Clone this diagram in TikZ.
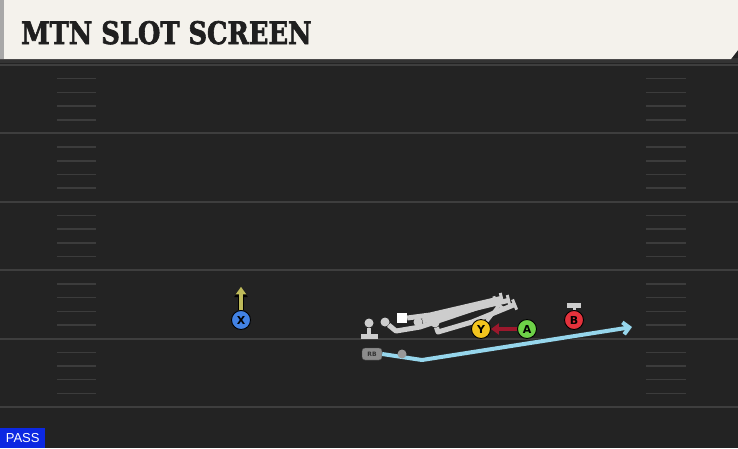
\documentclass[tikz,border=0pt]{standalone}
\usepackage{fontspec}
\usetikzlibrary{arrows.meta}
\newfontfamily\headfont[FakeBold=2.2]{DejaVu Serif}
\newfontfamily\tagfont{Liberation Sans}
\newfontfamily\dotfont{DejaVu Sans}
\definecolor{fieldbg}{RGB}{35, 35, 35}
\definecolor{yardln}{RGB}{62, 62, 62}
\definecolor{hashln}{RGB}{60, 60, 60}
\definecolor{headbg}{RGB}{244, 242, 236}
\definecolor{headedge}{RGB}{168, 168, 168}
\definecolor{blockgray}{RGB}{205, 205, 205}
\definecolor{routecyan}{RGB}{150, 214, 236}
\definecolor{xblue}{RGB}{66, 130, 228}
\definecolor{yyellow}{RGB}{242, 196, 30}
\definecolor{agreen}{RGB}{110, 210, 72}
\definecolor{bred}{RGB}{228, 50, 60}
\definecolor{pushred}{RGB}{155, 24, 44}
\definecolor{goolive}{RGB}{190, 186, 90}
\definecolor{passblue}{RGB}{12, 40, 226}
\tikzset{
  player/.style = {circle, draw = black, line width = 0.9, minimum size = 19, inner sep = 0,
    font = \dotfont\bfseries\fontsize{11}{11}\selectfont},
  lineman/.style = {circle, fill = blockgray, minimum size = 9, inner sep = 0},
  blockln/.style = {draw = blockgray, line width = 5, line join = round},
  blockend/.style = {-{Bar[width=11, line width=3]}},
  hashmk/.style = {draw = hashln, line width = 1.5},
}
\begin{document}
\begin{tikzpicture}[x = 1pt, y = -1pt]
\useasboundingbox (0, 0) rectangle (738, 448);
% field
\fill[fieldbg] (0, 0) rectangle (738, 448);
\fill[black!80] (0, 58) rectangle (738, 63);
\foreach \yl in {65, 133.4, 201.8, 270.2, 338.6, 407} {
  \draw[yardln, line width = 2] (0, \yl) -- (738, \yl);
}
\foreach \yl in {65, 133.4, 201.8, 270.2, 338.6} {
  \foreach \k in {1, 2, 3, 4} {
    \draw[hashmk] (57, \yl + 13.7*\k) -- (96, \yl + 13.7*\k);
    \draw[hashmk] (646, \yl + 13.7*\k) -- (686, \yl + 13.7*\k);
  }
}
% header
\fill[headbg] (0, 0) -- (738, 0) -- (738, 50) -- (731, 59) -- (0, 59) -- cycle;
\fill[headedge] (0, 0) rectangle (4, 59);
\node[anchor = base west, inner sep = 0, text = black!88] (title) at (21, 44)
  {\scalebox{0.83}[1]{\headfont\bfseries\fontsize{31}{31}\selectfont MTN SLOT SCREEN}};

% offensive line and blocks
\node[lineman] (lt) at (369, 323) {};
\draw[blockgray, line width = 4] (lt.south) -- (369, 335);
\fill[blockgray] (361, 334) rectangle (378, 339);
\node[lineman] (lg) at (385, 322) {};
\node[fill = white, minimum size = 10, inner sep = 0] (ctr) at (402, 318) {};
\node[lineman] (rg) at (418, 322) {};
\node[lineman] (rt) at (435, 323) {};
\draw[blockln, blockend] (lg) -- (396, 331) -- (420, 327) -- (497, 301);
\draw[blockln, blockend] (ctr.east) -- (430, 315) -- (503, 298);
\draw[blockln, blockend] (rg) -- (510, 300);
\draw[blockln, blockend] (rt) -- (438, 332) -- (472, 322) -- (516, 304);

% players
\node[player, fill = xblue] (x) at (241, 320) {X};
\node[player, fill = yyellow] (y) at (481, 329) {Y};
\node[player, fill = agreen] (a) at (527, 329) {A};
\node[player, fill = bred] (b) at (574, 320) {B};
\draw[blockln, blockend, line width = 3.5] (y) -- (500, 304);
\draw[blockgray, line width = 3] (b.north) -- (574, 306);
\fill[blockgray] (567, 303) rectangle (581, 308);

% X go route
\coordinate (xend) at (241, 288);
\draw[black, line width = 6, -{Triangle[width=13, length=9]}] (x.north) -- (xend);
\draw[goolive, line width = 4, -{Triangle[width=10, length=7.5]}] (x.north) -- ([yshift = 1.2]xend);

% A push
\draw[pushred, line width = 4, -{Triangle[width=11, length=8]}] (a.west) -- (y.east);

% RB screen
\node[draw = black!70, fill = black!45, rounded corners = 3, minimum width = 20, minimum height = 12,
  inner sep = 0, font = \dotfont\bfseries\fontsize{6}{6}\selectfont, text = black!80] (rb) at (372, 354) {RB};
\coordinate (bend) at (422, 360);
\coordinate (rbend) at (632, 327);
\draw[black!85, line width = 5.5, line join = round] (rb.east) -- (bend) -- (rbend);
\draw[routecyan, line width = 4, line join = round, -{Straight Barb[length=6, width=12]}] (rb.east) -- (bend) -- (rbend);
\node[circle, fill = black!40, minimum size = 9, inner sep = 0] (qb) at (402, 354) {};

% play tag
\node[fill = passblue, anchor = south west, minimum width = 45, minimum height = 20, inner sep = 0,
  text = white, font = \tagfont\fontsize{13}{13}\selectfont] (tag) at (0, 448) {PASS};
\end{tikzpicture}
\end{document}
